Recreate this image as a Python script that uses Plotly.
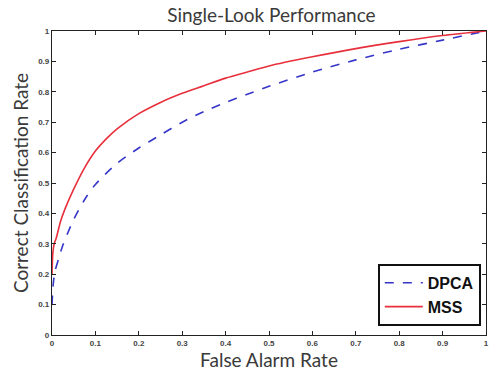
import plotly.graph_objects as go

# False alarm rate grid and curves
mss_x = [0, 0.002, 0.005, 0.01, 0.02, 0.03, 0.05, 0.075, 0.1, 0.125, 0.15, 0.2, 0.25,
         0.3, 0.35, 0.4, 0.45, 0.5, 0.6, 0.7, 0.8, 0.9, 1.0]
mss_y = [0.20, 0.27, 0.30, 0.32, 0.375, 0.415, 0.48, 0.55, 0.605, 0.645, 0.678, 0.728, 0.765,
         0.795, 0.82, 0.845, 0.865, 0.885, 0.915, 0.942, 0.965, 0.985, 1.0]

dpca_x = [0, 0.003, 0.007, 0.015, 0.025, 0.05, 0.075, 0.1, 0.15, 0.2, 0.25, 0.3, 0.35,
          0.4, 0.45, 0.5, 0.6, 0.7, 0.8, 0.9, 1.0]
dpca_y = [0.10, 0.17, 0.21, 0.25, 0.295, 0.38, 0.445, 0.495, 0.565, 0.615, 0.658, 0.70, 0.735,
          0.765, 0.792, 0.818, 0.865, 0.905, 0.94, 0.97, 1.0]

tick_vals = [0, 0.1, 0.2, 0.3, 0.4, 0.5, 0.6, 0.7, 0.8, 0.9, 1]
tick_text = ["0", "0.1", "0.2", "0.3", "0.4", "0.5", "0.6", "0.7", "0.8", "0.9", "1"]

fig = go.Figure()
fig.add_trace(go.Scatter(x=dpca_x, y=dpca_y, mode="lines", name="DPCA",
                         line=dict(color="#3535c8", width=1.6, dash="dash",
                                   shape="spline", smoothing=0.8)))
fig.add_trace(go.Scatter(x=mss_x, y=mss_y, mode="lines", name="MSS",
                         line=dict(color="#e8303c", width=1.6,
                                   shape="spline", smoothing=0.8)))

axis_common = dict(
    range=[0, 1], tickvals=tick_vals, ticktext=tick_text, automargin=False,
    showgrid=False, zeroline=False, showline=True, linecolor="#222", linewidth=1.2,
    mirror="ticks", ticks="inside", ticklen=4, tickcolor="#222",
    ticklabeloverflow="allow",
    tickfont=dict(family="Liberation Sans", size=8, color="#444", weight="bold"),
)

fig.update_layout(
    width=489, height=377,
    margin=dict(l=52, r=3, t=31, b=42),
    paper_bgcolor="white", plot_bgcolor="white",
    title=dict(text="Single-Look Performance", x=0.555, xanchor="center", y=0.977, yanchor="top",
               font=dict(family="Lato", size=19, color="#3a3a3a")),
    xaxis=dict(**axis_common,
               title=dict(text="False Alarm Rate", standoff=4,
                          font=dict(family="Lato", size=19, color="#3a3a3a"))),
    yaxis=dict(**axis_common,
               title=dict(text="Correct Classification Rate", standoff=4,
                          font=dict(family="Lato", size=19, color="#3a3a3a"))),
    legend=dict(x=0.988, y=0.03, xanchor="right", yanchor="bottom",
                bgcolor="white", bordercolor="#111", borderwidth=2,
                font=dict(family="Liberation Sans", size=16, color="#111", weight="bold"),
                tracegroupgap=0, itemwidth=38),
    showlegend=True,
)

# remove the page's default body margin so the figure fills the window
fig.write_html("out.html", config={"displayModeBar": False},
               post_script="document.body.style.margin='0';document.body.style.overflow='hidden';")
